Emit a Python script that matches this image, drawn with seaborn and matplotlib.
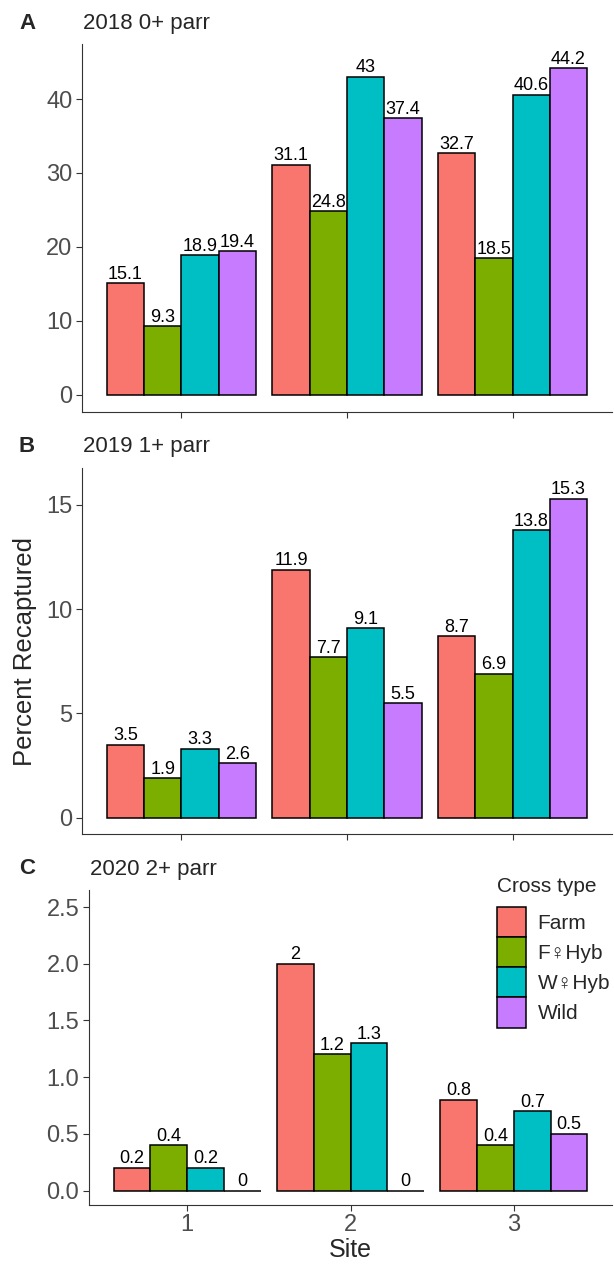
import matplotlib
matplotlib.use("Agg")
import matplotlib.pyplot as plt
import pandas as pd
import seaborn as sns

sites = ["1", "2", "3"]
cross_types = ["Farm", "F\u2640Hyb", "W\u2640Hyb", "Wild"]
palette = ["#F8766D", "#7CAE00", "#00BFC4", "#C77CFF"]

# percent recaptured per cross type, sites 1-3
parr_2018 = {
    "Farm": [15.1, 31.1, 32.7],
    "F\u2640Hyb": [9.3, 24.8, 18.5],
    "W\u2640Hyb": [18.9, 43, 40.6],
    "Wild": [19.4, 37.4, 44.2],
}
parr_2019 = {
    "Farm": [3.5, 11.9, 8.7],
    "F\u2640Hyb": [1.9, 7.7, 6.9],
    "W\u2640Hyb": [3.3, 9.1, 13.8],
    "Wild": [2.6, 5.5, 15.3],
}
parr_2020 = {
    "Farm": [0.2, 2, 0.8],
    "F\u2640Hyb": [0.4, 1.2, 0.4],
    "W\u2640Hyb": [0.2, 1.3, 0.7],
    "Wild": [0, 0, 0.5],
}

panel_tags = ["A", "B", "C"]
panel_titles = ["2018 0+ parr", "2019 1+ parr", "2020 2+ parr"]
y_ticks = [[0, 10, 20, 30, 40], [0, 5, 10, 15], [0.0, 0.5, 1.0, 1.5, 2.0, 2.5]]
y_limits = [(-2.26, 47.4), (-0.8, 16.77), (-0.13, 2.65)]


def to_frame(values):
    rows = []
    for cross in cross_types:
        for site, v in zip(sites, values[cross]):
            rows.append({"site": site, "cross": cross, "pct": v})
    return pd.DataFrame(rows)


W, H = 614, 1266
sns.set_theme(style="ticks")
plt.rcParams["font.family"] = ["Liberation Sans", "DejaVu Sans"]
fig = plt.figure(figsize=(W / 100, H / 100), dpi=100)

# panel boxes in pixels: left, right, top, bottom
boxes = [(82, 612, 44.3, 411.6), (82, 612, 468, 834.4), (89, 612, 890, 1205.3)]
axes = []
for (l, r, t, b) in boxes:
    axes.append(fig.add_axes([l / W, 1 - b / H, (r - l) / W, (b - t) / H]))

for i, (ax, data) in enumerate(zip(axes, [parr_2018, parr_2019, parr_2020])):
    df = to_frame(data)
    sns.barplot(data=df, x="site", y="pct", hue="cross", order=sites,
                hue_order=cross_types, palette=palette, saturation=1,
                width=0.9, edgecolor="black", linewidth=1.1, errorbar=None,
                legend=(i == 2), ax=ax)
    for c in ax.containers:
        ax.bar_label(c, fmt="{:g}", padding=0.3, fontsize=13, color="black")
    ax.set_xlim(-0.6, 2.6)
    ax.set_ylim(*y_limits[i])
    ax.set_yticks(y_ticks[i])
    if i == 2:
        ax.set_yticklabels([f"{v:.1f}" for v in y_ticks[i]])
    ax.set_xlabel("")
    ax.set_ylabel("")
    sns.despine(ax=ax)
    for s in ["left", "bottom"]:
        ax.spines[s].set_color("#333333")
        ax.spines[s].set_linewidth(0.8)
    ax.tick_params(length=4, width=0.8, color="#333333", labelcolor="#4D4D4D",
                   labelsize=17, pad=3)
    ax.tick_params(axis="x", pad=2)
    if i < 2:
        ax.set_xticklabels([])

    l, r, t, b = boxes[i]
    fig.text(27 / W, 1 - (t - 21) / H, panel_tags[i], fontsize=16,
             fontweight="bold", ha="center", va="center")
    fig.text((l + 1) / W, 1 - (t - 21) / H, panel_titles[i], fontsize=16,
             ha="left", va="center")

leg_ax = axes[2]
handles, labels = leg_ax.get_legend_handles_labels()
leg_ax.legend(handles, labels, loc="upper left",
              bbox_to_anchor=(497 / W, 1 - 907 / H), bbox_transform=fig.transFigure,
              frameon=False, fontsize=15, borderpad=0,
              borderaxespad=0, labelspacing=0.0, handlelength=1.4,
              handleheight=1.85, handletextpad=0.55)
fig.text(497 / W, 1 - 887 / H, "Cross type", fontsize=15, ha="left", va="center")

fig.text(25 / W, 1 - 651 / H, "Percent Recaptured", rotation=90, fontsize=18.5,
         ha="center", va="center")
fig.text(350 / W, 1 - 1250 / H, "Site", fontsize=18, ha="center", va="center")

fig.savefig("out.png", dpi=100)
